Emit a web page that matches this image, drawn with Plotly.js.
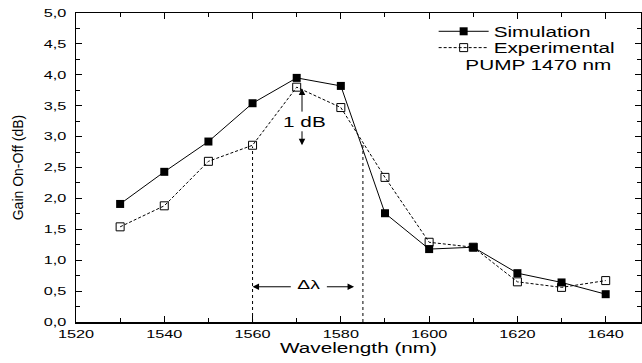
<!DOCTYPE html>
<html><head><meta charset="utf-8">
<script src="https://cdn.plot.ly/plotly-3.0.1.min.js"></script>
<style>
body{margin:0;padding:0;background:#fff}
#chart{width:642px;height:363px}
</style>
</head><body><div id="chart"></div>
<script>
const wavelength = [1530,1540,1550,1560,1570,1580,1590,1600,1610,1620,1630,1640];
const simulation = [1.91,2.43,2.92,3.54,3.95,3.82,1.76,1.18,1.21,0.79,0.64,0.45];
const experimental = [1.54,1.88,2.60,2.86,3.80,3.47,2.34,1.29,1.21,0.65,0.56,0.67];
const seriesNames = ["Simulation","Experimental"];
const bandEdges = [1560,1585];
const bandEdgeTops = [2.84,2.89];
const fontFam = "Liberation Sans, Arial, sans-serif";
const STRETCH = 1.48;

const traces = [
  {x: wavelength, y: simulation, name: seriesNames[0], type:'scatter', mode:'lines+markers', legend:'legend',
   line:{color:'#000', width:1}, marker:{symbol:'square', size:8, color:'#000'}},
  {x: wavelength, y: experimental, name: seriesNames[1], type:'scatter', mode:'lines+markers', legend:'legend2',
   line:{color:'#000', width:1, dash:'3px,2px'}, marker:{symbol:'square-open', size:8, color:'#000', line:{width:1}}}
];

const shapes = bandEdges.map((b,i)=>({type:'line', xref:'x', yref:'y', x0:b, x1:b, y0:0, y1:bandEdgeTops[i],
  line:{color:'#000', width:1, dash:'dot'}}));

const annotations = [
  {xref:'x', yref:'y', x:1560, y:0.57, ax:1569, ay:0.57, axref:'x', ayref:'y', showarrow:true, arrowhead:2, arrowsize:1.3, arrowwidth:1, arrowcolor:'#000', text:''},
  {xref:'x', yref:'y', x:1583, y:0.57, ax:1576.5, ay:0.57, axref:'x', ayref:'y', showarrow:true, arrowhead:2, arrowsize:1.3, arrowwidth:1, arrowcolor:'#000', text:''},
  {xref:'x', yref:'y', x:1572.8, y:0.61, text:'Δλ', showarrow:false, font:{family:fontFam, size:13, color:'#000'}},
  {xref:'x', yref:'y', x:1571.2, y:3.78, ax:1571.2, ay:3.38, axref:'x', ayref:'y', showarrow:true, arrowhead:2, arrowsize:1.3, arrowwidth:1, arrowcolor:'#000', text:''},
  {xref:'x', yref:'y', x:1571.2, y:2.86, ax:1571.2, ay:3.11, axref:'x', ayref:'y', showarrow:true, arrowhead:2, arrowsize:1.3, arrowwidth:1, arrowcolor:'#000', text:''},
  {xref:'x', yref:'y', x:1571.7, y:3.23, text:'1 dB', showarrow:false, font:{family:fontFam, size:14, color:'#000'}},
  {xref:'paper', yref:'paper', x:0.818, y:0.832, text:'PUMP 1470 nm', showarrow:false, xanchor:'center', yanchor:'middle', font:{family:fontFam, size:14, color:'#000'}}
];

const legendBase = {xanchor:'left', yanchor:'middle', bgcolor:'rgba(0,0,0,0)', borderwidth:0,
    font:{family:fontFam, size:14, color:'#000'}, itemwidth:50};

const layout = {
  width:642, height:363,
  margin:{l:76, r:1, t:13, b:41},
  paper_bgcolor:'#fff', plot_bgcolor:'#fff',
  separators:',.',
  font:{family:fontFam, color:'#000', size:11},
  showlegend:true,
  legend:Object.assign({x:0.633, y:0.9395}, legendBase),
  legend2:Object.assign({x:0.633, y:0.8867}, legendBase),
  xaxis:{range:[1520,1648], dtick:20, tick0:1520, tickformat:'d', ticks:'inside', ticklen:6, tickwidth:1, tickcolor:'#000',
    minor:{dtick:10, ticks:'inside', ticklen:4, tickcolor:'#000'},
    showline:true, linecolor:'#000', linewidth:1.5, mirror:'ticks', showgrid:false, zeroline:false,
    tickfont:{family:fontFam, size:11}, ticklabelstandoff:1,
    title:{text:'Wavelength (nm)', font:{family:fontFam, size:14}, standoff:3}},
  yaxis:{range:[0,5], dtick:0.5, tick0:0, tickformat:'.1f', ticks:'inside', ticklen:6, tickwidth:1, tickcolor:'#000',
    minor:{dtick:0.25, ticks:'inside', ticklen:4, tickcolor:'#000'},
    showline:true, linecolor:'#000', linewidth:1.5, mirror:'ticks', showgrid:false, zeroline:false,
    tickfont:{family:fontFam, size:11}, ticklabelstandoff:6,
    title:{text:'Gain On-Off (dB)', font:{family:fontFam, size:14}, standoff:24}},
  shapes: shapes,
  annotations: annotations
};

function stretchTexts(){
  document.querySelectorAll('#chart text').forEach(t=>{
    if (t.closest('.g-ytitle') || t.classList.contains('ytitle')) return;
    const L = t.getComputedTextLength();
    if (!L) return;
    t.setAttribute('textLength', (L*STRETCH).toFixed(1));
    t.setAttribute('lengthAdjust','spacingAndGlyphs');
  });
  document.querySelectorAll('#chart .scrollbox, #chart [class^="legend"], #chart [class^="legend"] *').forEach(e=>{
    if (e.hasAttribute('clip-path')) e.removeAttribute('clip-path');
    if (e.style && e.style.clipPath) e.style.clipPath = '';
  });
}
Plotly.newPlot('chart', traces, layout, {displayModeBar:false, staticPlot:true}).then(stretchTexts);
</script></body></html>
